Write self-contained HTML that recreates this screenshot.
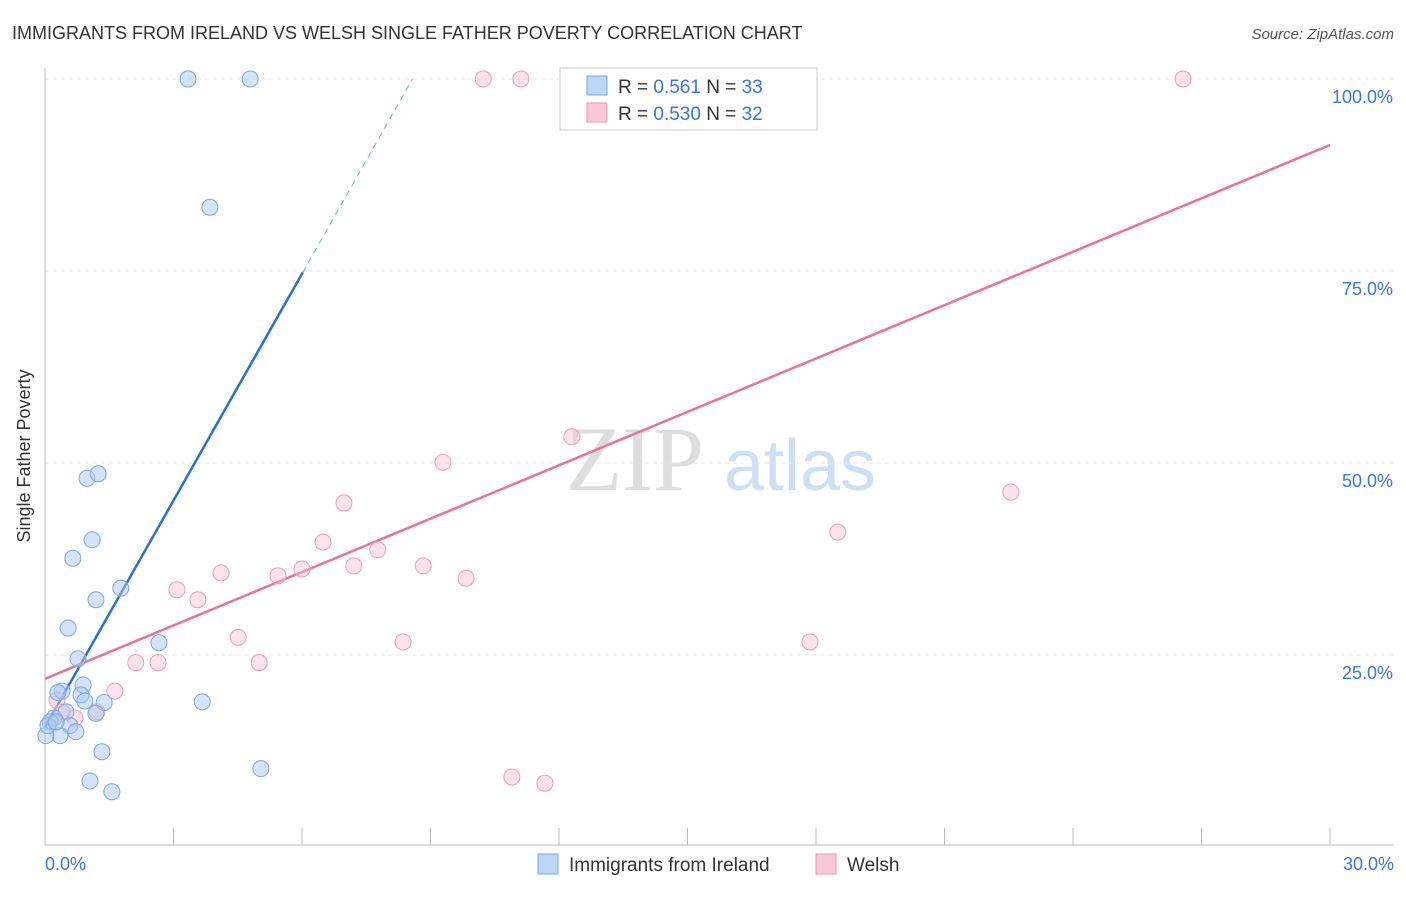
<!DOCTYPE html>
<html><head><meta charset="utf-8"><style>
body{margin:0;background:#fff;font-family:"Liberation Sans",sans-serif}
</style></head><body>
<svg width="1406" height="892" xmlns="http://www.w3.org/2000/svg" id="chart">
<text x="12" y="39" font-size="18" fill="#333">IMMIGRANTS FROM IRELAND VS WELSH SINGLE FATHER POVERTY CORRELATION CHART</text>
<text x="1394" y="39" font-size="15" fill="#555" font-style="italic" text-anchor="end">Source: ZipAtlas.com</text>
<text x="30" y="456" font-size="18" fill="#333" text-anchor="middle" transform="rotate(-90 30 456)">Single Father Poverty</text>
<g><text x="635" y="490" font-size="92" fill="#ddd" font-family="Liberation Serif,serif" text-anchor="middle">ZIP</text><text x="800" y="490" font-size="72" fill="#cfdff3" text-anchor="middle">atlas</text></g>
<g id="grid"></g><g id="axes"></g><g id="lines"></g><g id="pts"></g>
<g>
<rect x="560" y="68" width="257" height="62" fill="#fff" stroke="#ccc"/>
<rect x="587" y="76" width="20" height="19" fill="#bcd6f5" stroke="#7aa7e0"/>
<rect x="587" y="103" width="20" height="19" fill="#f9c8d6" stroke="#e99ab2"/>
<text x="618" y="93" font-size="19" fill="#333">R = <tspan fill="#3a78d8">0.561</tspan>   N = <tspan fill="#3a78d8">33</tspan></text>
<text x="618" y="120" font-size="19" fill="#333">R = <tspan fill="#3a78d8">0.530</tspan>   N = <tspan fill="#3a78d8">32</tspan></text>
</g>
<g>
<rect x="538" y="854" width="20" height="20" fill="#bcd6f5" stroke="#7aa7e0"/>
<text x="569" y="871" font-size="19" fill="#333">Immigrants from Ireland</text>
<rect x="816" y="854" width="20" height="20" fill="#f9c8d6" stroke="#e99ab2"/>
<text x="847" y="871" font-size="19" fill="#333">Welsh</text>
</g>
</svg>
<script>
const xTicks=[0,3,6,9,12,15,18,21,24,27,30];
const yTicks=[25,50,75,100];
const yTickLabels=["25.0%","50.0%","75.0%","100.0%"];
const blueX=[3.34,4.79,3.85,0.98,1.24,1.10,0.65,1.77,1.19,0.54,2.66,0.77,0.89,0.40,0.30,0.84,1.38,3.67,0.93,0.49,1.19,0.21,0.12,0.58,0.72,0.35,0.02,1.33,5.04,1.05,1.56,0.07,0.26];
const blueY=[100,100,83.3,48.0,48.6,40.0,37.6,33.7,32.2,28.5,26.6,24.5,21.1,20.3,20.1,19.8,18.8,18.9,19.0,17.6,17.4,16.8,16.3,15.8,15.0,14.5,14.5,12.4,10.2,8.6,7.2,15.8,16.3];
const pinkX=[10.23,11.11,12.47,14.15,26.57,12.30,9.29,22.55,6.98,18.51,6.49,7.77,7.21,8.83,4.11,6.0,5.44,9.83,3.08,3.57,4.51,8.36,17.86,2.12,2.64,5.0,1.63,0.28,0.40,1.21,0.70,10.90,11.67];
const pinkY=[100,100,100,100,100,53.4,50.1,46.2,44.8,41.0,39.7,38.7,36.6,36.6,35.7,36.2,35.3,35.0,33.5,32.2,27.3,26.7,26.7,24.0,24.0,24.0,20.3,19.1,17.6,17.6,16.8,9.1,8.3];
const blueTrend=[15.6,9.84]; // intercept, slope
const pinkTrend=[21.9,2.317];
const NS="http://www.w3.org/2000/svg";
const X=v=>45+v/30*1285, Y=v=>847-v/25*192;
function mk(t,a,p){const e=document.createElementNS(NS,t);for(const k in a)e.setAttribute(k,a[k]);document.getElementById(p).appendChild(e);return e;}
yTicks.forEach((t,i)=>{
 const g=mk('line',{x1:45,x2:1394,y1:Y(t),y2:Y(t),stroke:'#e4e4e4','stroke-dasharray':'4,4'},'grid');
 
 
 const l=mk('text',{x:1393,y:Y(t)+24,'font-size':18,fill:'#3a78d8','text-anchor':'end'},'axes');
 l.textContent=yTickLabels[i];
 
 
});
const ax=mk('line',{x1:45,x2:1394,y1:845,y2:845,stroke:'#bbb'},'axes');


const ay=mk('line',{x1:45,x2:45,y1:68,y2:845,stroke:'#bbb'},'axes');


xTicks.forEach(t=>{const e=mk('line',{x1:X(t),x2:X(t),y1:828,y2:845,stroke:'#bbb'},'axes');
 
 });
const x0=mk('text',{x:45,y:870,'font-size':18,fill:'#3a78d8'},'axes');x0.textContent='0.0%';


const x1=mk('text',{x:1394,y:870,'font-size':18,fill:'#3a78d8','text-anchor':'end'},'axes');x1.textContent='30.0%';


function pts(xs,ys,fill,stroke,name){xs.forEach((v,i)=>{const c=mk('circle',{cx:X(v),cy:Y(ys[i]),r:8,fill:fill,stroke:stroke,'stroke-width':1},'pts');
 
 });}
pts(pinkX,pinkY,'rgba(249,190,208,0.45)','#eaa0b8','welsh-point');
pts(blueX,blueY,'rgba(170,200,240,0.5)','#7ea8de','ireland-point');
const bSolidEnd=6.02, bEnd=(100-blueTrend[0])/blueTrend[1];
const b1=mk('line',{x1:X(0),y1:Y(blueTrend[0]),x2:X(bSolidEnd),y2:Y(blueTrend[0]+blueTrend[1]*bSolidEnd),stroke:'#2a6fd6','stroke-width':2.5},'lines');


const b2=mk('line',{x1:X(bSolidEnd),y1:Y(blueTrend[0]+blueTrend[1]*bSolidEnd),x2:X(bEnd),y2:Y(100),stroke:'#7ea8de','stroke-width':1,'stroke-dasharray':'6,5'},'lines');


const p1=mk('line',{x1:X(0),y1:Y(pinkTrend[0]),x2:X(30),y2:Y(pinkTrend[0]+pinkTrend[1]*30),stroke:'#e8739a','stroke-width':2.5},'lines');


</script>
</body></html>
